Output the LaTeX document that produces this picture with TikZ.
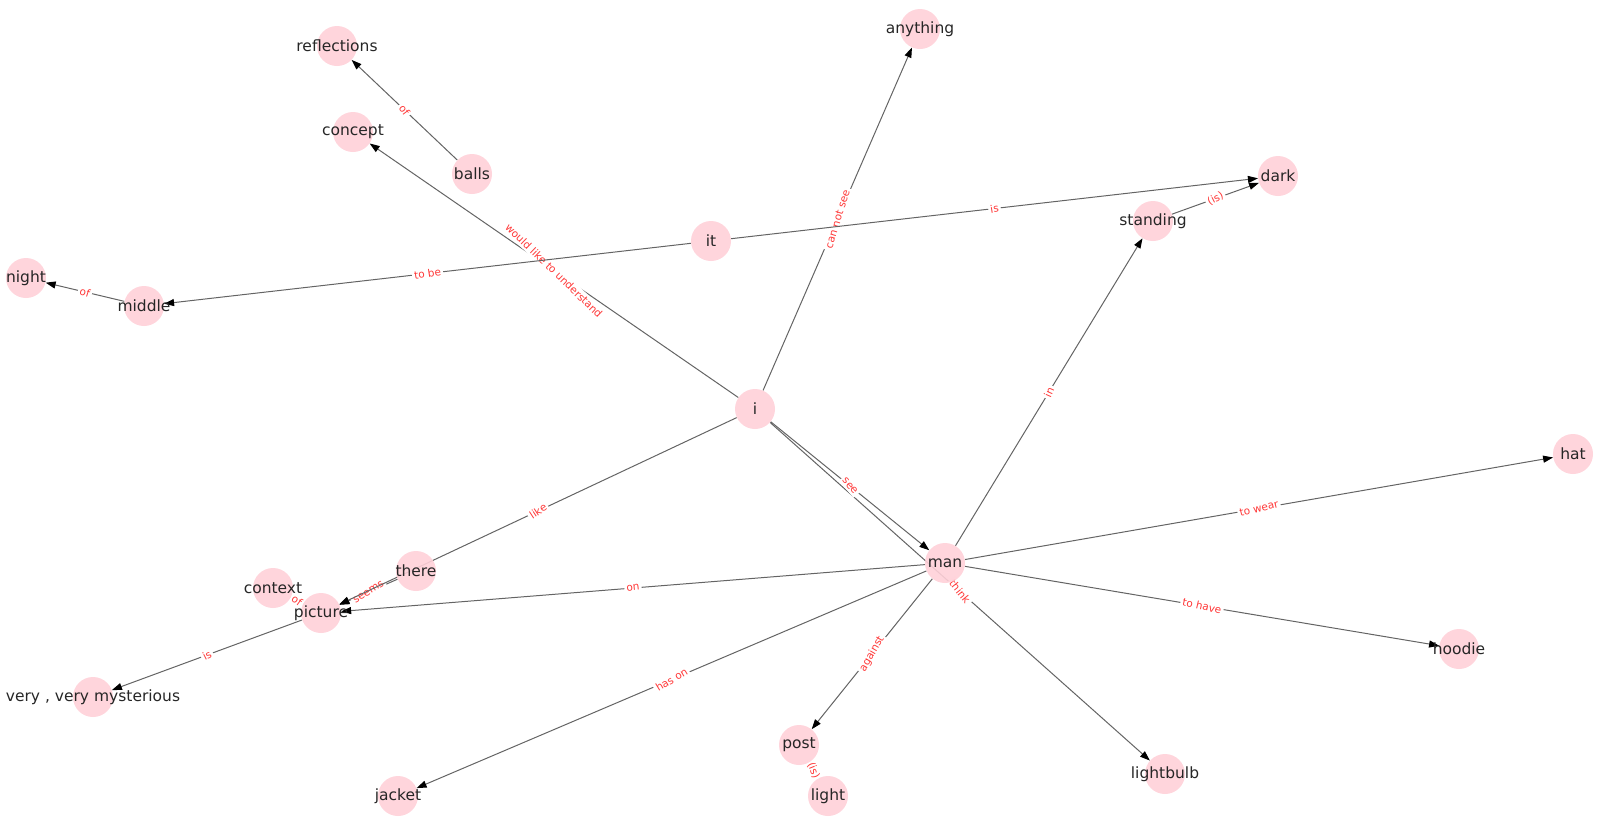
\documentclass[tikz,border=0pt]{standalone}
\usepackage{fontspec}
\setmainfont{DejaVu Sans}
\usepackage{tikz}
\usetikzlibrary{arrows.meta,backgrounds}
\definecolor{nodepink}{RGB}{255,208,216}
\definecolor{edgegray}{RGB}{100,100,100}
\definecolor{tagred}{RGB}{255,55,55}
\definecolor{wordgray}{RGB}{38,38,38}

\tikzset{
  vertex/.style={circle,fill=nodepink,fill opacity=0.9,minimum size=40pt,inner sep=0pt},
  word/.style={text=wordgray,font=\fontsize{15.5}{18}\selectfont,inner sep=0pt},
  rel/.style={draw=edgegray,line width=1pt,-{Triangle[length=10pt,width=7pt,color=black]}},
  plain/.style={draw=edgegray,line width=1pt},
  tag/.style={midway,fill=white,text=tagred,inner sep=2pt,font=\fontsize{10.5}{12}\selectfont}
}

\begin{document}
\begin{tikzpicture}[x=1pt,y=-1pt]
        \useasboundingbox (0,0) rectangle (1604,831);
        % nodes
        \foreach \n/\x/\y in {i/755/409,man/945/563,it/711/241,dark/1278/176,standing/1153/221,
          anything/920/29,reflections/337/46,concept/353/132,balls/472/174,night/26/278,
          middle/144/306,hat/1573/454,hoodie/1459/649,lightbulb/1165/774,post/799/745,
          light/828/796,jacket/398/796,picture/321/613,context/273/588,there/416/571}{
          \node[vertex,label={[word]center:\n}] (\n) at (\x,\y) {};
        }
        \node[vertex,label={[word]center:very , very mysterious}] (mysterious) at (93,697) {};
        % edges (label angle as the plot shows it)
        \begin{scope}[on background layer]
          \foreach \a/\b/\t/\r in {i/concept/would like to understand/-44,i/anything/can not see/73,
            it/middle/to be/9,it/dark/is/9,middle/night/of/-18,balls/reflections/of/-53,
            standing/dark/(is)/27,man/standing/in/66,man/hat/to wear/14,man/hoodie/to have/-13,
            i/lightbulb/think/-51,man/post/against/60,man/jacket/has on/31,man/picture/on/6,
            picture/mysterious/is/27,there/picture/seems/32,i/picture/like/33,i/man/see/-49}{
            \draw[rel] (\a) -- (\b) node[tag,rotate=\r] {\t};
          }
          \draw[plain] (post) -- (light) node[tag,rotate=-68] {(is)};
          \draw[plain] (context) -- (picture) node[tag,rotate=-36] {of};
        \end{scope}
      \end{tikzpicture}
\end{document}
